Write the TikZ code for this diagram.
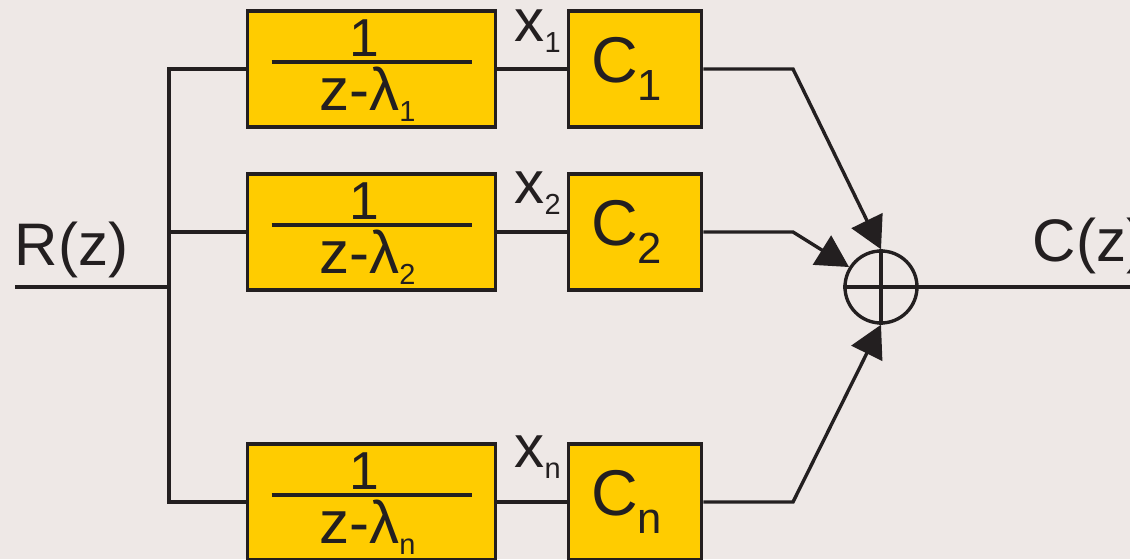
\documentclass[tikz,border=0pt]{standalone}
\usepackage{fontspec}
\setmainfont{Liberation Sans}
\usetikzlibrary{arrows.meta,calc,positioning}
\definecolor{BackClr}{HTML}{EEE8E6}
\definecolor{BoxClr}{HTML}{FFCC00}
\definecolor{LineClr}{HTML}{231F20}
\newcommand{\bigtxt}{\fontsize{42.7pt}{48pt}\selectfont}
\newcommand{\gaintxt}{\fontsize{46pt}{50pt}\selectfont}
\newcommand{\numtxt}{\fontsize{38pt}{44pt}\selectfont}
\newcommand{\subtxt}{\fontsize{20.6pt}{24pt}\selectfont}
\newcommand{\midtxt}{\fontsize{31pt}{34pt}\selectfont}
\newcommand{\lsub}[1]{\raisebox{-0.28cm}{\subtxt #1}}
\newcommand{\csub}[1]{\raisebox{-0.45cm}{\midtxt #1}}

\begin{document}
\begin{tikzpicture}[x=0.025cm,y=-0.025cm,line width=2.4pt,color=LineClr,
  frac/.style={draw,fill=BoxClr,minimum width=6.2cm,minimum height=2.9cm,inner sep=0pt},
  gain/.style={draw,fill=BoxClr,minimum width=3.33cm,minimum height=2.9cm,inner sep=0pt},
  sumnode/.style={draw,circle,minimum size=1.8cm,inner sep=0pt},
  lbl/.style={inner sep=0pt,anchor=base west},
  arr/.style={-{Triangle[length=0.8cm,width=0.85cm]}}]
\useasboundingbox (0,0) rectangle (1130,559);
\fill[BackClr] (0,0) rectangle (1130,559);

\node[sumnode] (sum) at (881,287) {};
\draw (sum.north) -- (sum.south) (sum.west) -- (sum.east);

\foreach \r/\y/\yx/\a in {1/69/41/north,2/232/203/148,n/502/467/south}{
  \node[frac] (b\r) at (371.5,\y) {};
  \node[gain] (c\r) at (635,\y) {\hspace*{-12pt}\gaintxt C\csub{\r}};
  \node[inner sep=0pt,anchor=base] (num\r) at ($(b\r.center)+(-7,-13)$) {\numtxt 1};
  \node[inner sep=0pt,anchor=base] (den\r) at ($(b\r.center)+(-4,41)$) {\bigtxt z-λ\lsub{\r}};
  \draw ($(b\r.center)+(-100,-7)$) -- ($(b\r.center)+(100,-7)$);
  \node[lbl] (x\r) at (513,\yx) {\bigtxt x\lsub{\r}};
  \coordinate (k\r) at (793,\y);
  \draw (b\r.east) -- (c\r.west);
  \draw[arr] (c\r.east) -- (k\r) -- (sum.\a);
}

\coordinate (bustop) at (169,69);
\coordinate (busbot) at (169,502);
\draw (b1.west) -- (bustop) -- (busbot) -- (bn.west);
\draw (b2.west) -- (b2.west -| bustop);

\coordinate (rin) at (15,287);
\coordinate (cout) at (1130,287);
\draw (rin) -- (rin -| bustop);
\draw (sum.east) -- (cout);

\node[lbl] (rlab) at (13,265) {\bigtxt R(z)};
\node[lbl] (clab) at (1031,261) {\bigtxt C(z)};
\end{tikzpicture}
\end{document}
